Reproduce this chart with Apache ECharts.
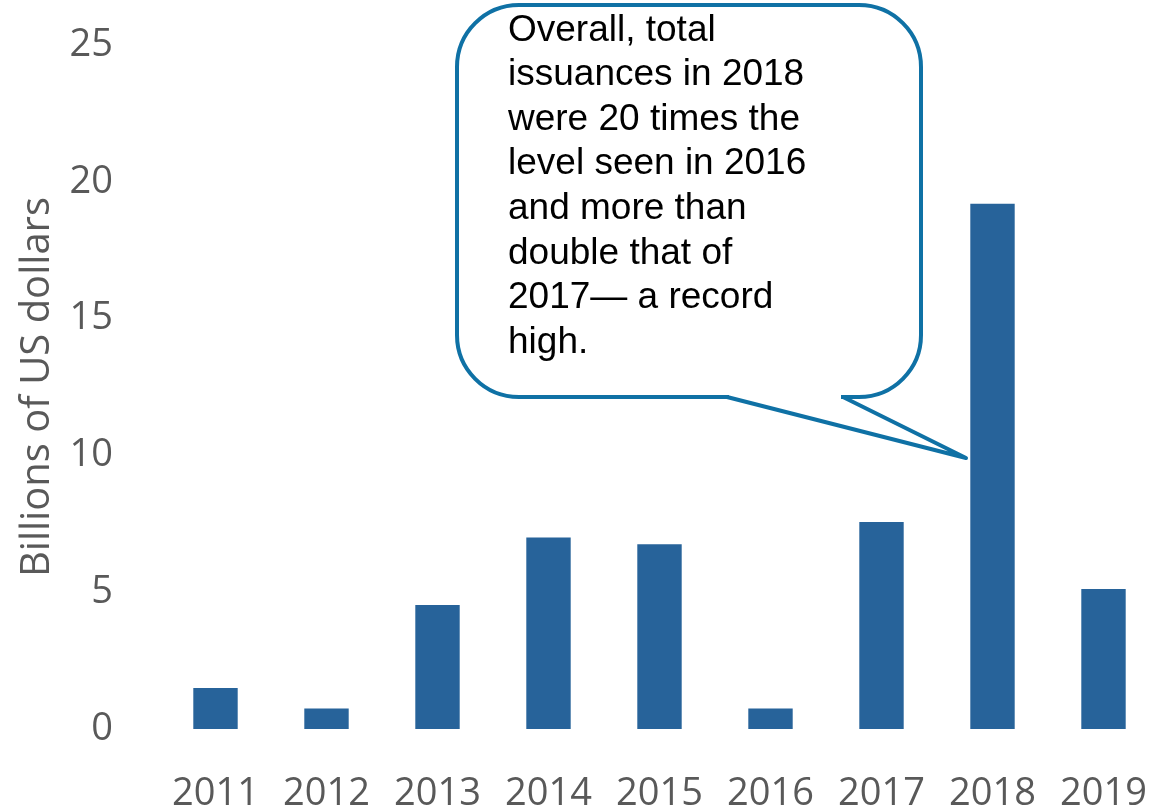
<!DOCTYPE html>
<html>
<head>
<meta charset="utf-8">
<script src="https://cdn.jsdelivr.net/npm/echarts@6/dist/echarts.min.js"></script>
<style>
  html, body { margin: 0; padding: 0; background: #fff; }
  #chart { width: 1152px; height: 811px; }
</style>
</head>
<body>
<div id="chart"></div>
<script>
// issuance per year, billions of US dollars
const years = ["2011", "2012", "2013", "2014", "2015", "2016", "2017", "2018", "2019"];
const issuance = [1.5, 0.75, 4.53, 7.0, 6.75, 0.75, 7.57, 19.2, 5.12];
const yTicks = [0, 5, 10, 15, 20, 25];
const noteLines = [
  "Overall, total",
  "issuances in 2018",
  "were 20 times the",
  "level seen in 2016",
  "and more than",
  "double that of",
  "2017\u2014 a record",
  "high."
];

const chart = echarts.init(document.getElementById("chart"));

const calloutColor = "#0F71A5";

const option = {
  animation: false,
  grid: {
    left: 160,
    width: 999,
    top: 45,
    bottom: 82,
    outerBoundsMode: "none",
    containLabel: false
  },
  xAxis: {
    type: "category",
    data: years,
    axisLine: { show: false },
    axisTick: { show: false },
    axisLabel: {
      interval: 0,
      color: "#595959",
      fontFamily: "Open Sans",
      fontSize: 38,
      margin: 46
    }
  },
  yAxis: {
    type: "value",
    min: yTicks[0],
    max: yTicks[yTicks.length - 1],
    interval: 5,
    name: "Billions of US dollars",
    nameLocation: "middle",
    nameGap: 102,
    nameTextStyle: {
      color: "#595959",
      fontFamily: "Open Sans",
      fontSize: 40
    },
    splitLine: { show: false },
    axisLine: { show: false },
    axisTick: { show: false },
    axisLabel: {
      color: "#595959",
      fontFamily: "Open Sans",
      fontSize: 38,
      margin: 47
    }
  },
  series: [
    {
      type: "bar",
      data: issuance,
      barWidth: "40%",
      itemStyle: { color: "#27639A" }
    }
  ],
  graphic: [
    // bubble box
    {
      type: "rect",
      z: 100,
      shape: { x: 457, y: 5, width: 464, height: 392, r: 62 },
      style: { fill: "#fff", stroke: calloutColor, lineWidth: 4 }
    },
    // gap in the bottom edge where the tail leaves
    {
      type: "rect",
      z: 101,
      shape: { x: 729, y: 393, width: 112, height: 8 },
      style: { fill: "#fff" }
    },
    // tail pointing at the 2018 bar
    {
      type: "polyline",
      z: 102,
      shape: { points: [[727, 397], [966, 458], [843, 397]] },
      style: { stroke: calloutColor, lineWidth: 4, lineJoin: "round", fill: null }
    },
    {
      type: "text",
      z: 103,
      x: 508,
      y: 8,
      style: {
        text: noteLines.join("\n"),
        font: "37px 'Liberation Sans', Arial, sans-serif",
        fill: "#000",
        lineHeight: 44.6
      }
    }
  ]
};

chart.setOption(option);
</script>
</body>
</html>
